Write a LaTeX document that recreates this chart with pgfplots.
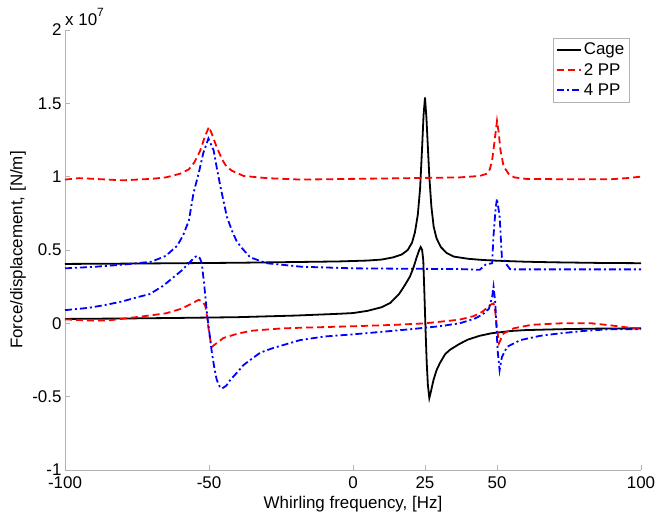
\documentclass[border=0pt]{standalone}
\usepackage{fontspec}
\setmainfont{Liberation Sans}
\usepackage{pgfplots}
\pgfplotsset{compat=1.18}

\begin{document}
\begin{tikzpicture}[font=\fontsize{17}{20}\selectfont]
  \begin{axis}[
    width=576bp, height=440bp, scale only axis,
    xmin=-100, xmax=100, ymin=-1, ymax=2,
    axis lines=left, axis line style={-, draw=gray!60, line width=0.9bp},
    tick style={draw=gray!60, line width=0.9bp},
    tick align=inside, major tick length=5bp,
    xtick={-100,-50,0,25,50,100},
    xticklabels={-100,-50,0,25,50,100},
    ytick={-1,-0.5,0,0.5,1,1.5,2},
    yticklabels={-1,-0.5,0,0.5,1,1.5,2},
    xticklabel style={yshift=-3bp},
    xlabel={Whirling frequency, [Hz]},
    ylabel={Force/displacement, [N/m]},
    xlabel style={at={(rel axis cs:0.5,0)}, anchor=center, yshift=-34bp},
    ylabel style={at={(rel axis cs:-0.0816,0.5)}, anchor=center},
    clip=false,
    legend cell align=left,
    legend style={at={(rel axis cs:0.98,0.982)}, anchor=north east,
      draw=gray!60, fill=white, inner sep=3bp, row sep=3bp,
      font=\fontsize{17}{20}\selectfont},
    legend image code/.code={\draw[#1] (0bp,0bp) -- (24bp,0bp);},
  ]
    % Cage
    \addplot[black, line width=1.8bp] coordinates {
      (-100,0.405)(-80,0.407)(-60,0.41)(-40,0.413)(-20,0.418)(-5,0.422)(5,0.428)
      (10,0.435)(14,0.45)(17,0.47)(19,0.5)(20.5,0.55)(21.5,0.62)(22.5,0.74)
      (23.3,0.92)(24,1.2)(24.5,1.42)(25,1.54)(25.5,1.4)(26,1.2)(26.5,1.0)
      (27.2,0.8)(28,0.66)(29,0.58)(30.5,0.52)(32.5,0.48)(35,0.455)(40,0.44)
      (45,0.432)(50,0.427)(60,0.42)(70,0.416)(85,0.412)(100,0.41)
    };
    \addlegendentry{Cage}
    \addplot[red, line width=1.8bp, dash pattern=on 7bp off 4bp] coordinates {
      (-100,0.98)(-95,0.99)(-90,0.985)(-80,0.975)(-70,0.985)(-65,0.995)(-60,1.02)
      (-57,1.05)(-55,1.1)(-53,1.18)(-51.5,1.27)(-50,1.34)(-48.8,1.28)(-47.3,1.2)
      (-45.5,1.12)(-44,1.07)(-42,1.04)(-38,1.005)(-30,0.99)(-18,0.98)(0,0.985)
      (20,0.99)(37,0.995)(44,1.005)(46.5,1.02)(47.5,1.05)(48.3,1.11)(49.2,1.25)
      (50,1.38)(50.6,1.3)(51.2,1.18)(52.3,1.07)(54,1.02)(56,0.995)(60,0.985)
      (70,0.983)(90,0.983)(95,0.99)(100,1.0)
    };
    \addlegendentry{2 PP}
    \addplot[blue, line width=1.8bp, dash pattern=on 7bp off 3bp on 2bp off 3bp] coordinates {
      (-100,0.375)(-90,0.385)(-80,0.4)(-70,0.42)(-65,0.46)(-61,0.53)(-59,0.6)
      (-57,0.7)(-55.4,0.886)(-53.5,1.03)(-52,1.16)(-50.2,1.26)(-48.4,1.18)
      (-47.2,1.05)(-46,0.93)(-43.8,0.727)(-42,0.63)(-40.3,0.556)(-38,0.5)
      (-35.7,0.45)(-30,0.41)(-18,0.386)(0,0.375)(20,0.372)(37,0.37)(44,0.365)
      (46,0.4)(48.3,0.41)(48.8,0.6)(49.5,0.78)(50,0.85)(50.9,0.73)(51.7,0.45)
      (53,0.41)(54.5,0.37)(56,0.368)(100,0.368)
    };
    \addlegendentry{4 PP}
    % lower branches
    \addplot[black, line width=1.8bp, forget plot] coordinates {
      (-100,0.03)(-80,0.033)(-60,0.037)(-40,0.042)(-20,0.053)(-5,0.065)(0,0.07)
      (5,0.085)(10,0.11)(13,0.14)(16,0.2)(18,0.26)(19.8,0.32)(21,0.38)(22.1,0.45)
      (23,0.5)(23.5,0.52)(24,0.5)(24.4,0.43)(24.8,0.2)(25.2,-0.05)(25.6,-0.27)
      (26,-0.42)(26.5,-0.51)(27,-0.47)(27.9,-0.39)(29,-0.32)(30.2,-0.27)(32,-0.21)
      (33.7,-0.18)(37,-0.14)(40,-0.11)(44,-0.085)(48,-0.068)(55,-0.052)(60,-0.046)
      (72,-0.04)(85,-0.036)(100,-0.034)
    };
    \addplot[red, line width=1.8bp, dash pattern=on 7bp off 4bp, forget plot] coordinates {
      (-100,0.027)(-92,0.02)(-85,0.02)(-74,0.045)(-65,0.068)(-59.5,0.1)(-56,0.135)
      (-53.6,0.16)(-52.3,0.15)(-51.3,0.12)(-50.7,0.05)(-50.2,-0.03)(-49.5,-0.12)
      (-49,-0.16)(-47,-0.13)(-45,-0.1)(-40,-0.07)(-35,-0.05)(-25,-0.035)(-18,-0.03)
      (0,-0.02)(15,-0.01)(25,0.0)(37,0.025)(42,0.05)(45,0.08)(47.6,0.125)
      (48.8,0.136)(49.4,0.08)(49.9,-0.02)(50.7,-0.136)(51.5,-0.1)(52.3,-0.068)
      (55.8,-0.034)(62,-0.01)(72,0.0)(83,0.0)(90,-0.015)(100,-0.04)
    };
    \addplot[blue, line width=1.8bp, dash pattern=on 7bp off 3bp on 2bp off 3bp, forget plot] coordinates {
      (-100,0.09)(-92,0.105)(-86,0.125)(-80,0.15)(-74.5,0.18)(-70.5,0.2)(-66,0.255)
      (-63.5,0.295)(-59.5,0.36)(-57,0.41)(-55,0.45)(-54.2,0.46)(-53.2,0.445)
      (-52.5,0.41)(-51.6,0.25)(-50.7,0.068)(-49,-0.2)(-48,-0.32)(-47.3,-0.386)
      (-46.3,-0.43)(-45.5,-0.445)(-44,-0.425)(-42.6,-0.386)(-40,-0.33)(-38,-0.284)
      (-35,-0.24)(-32.2,-0.2)(-28,-0.17)(-24.2,-0.148)(-18.3,-0.114)(-10,-0.09)
      (0,-0.075)(10.5,-0.057)(20,-0.04)(30,-0.02)(37,0.0)(42,0.03)(45,0.06)
      (47.2,0.1)(48.3,0.18)(48.8,0.25)(49.4,0.14)(50.2,-0.18)(50.9,-0.32)
      (51.7,-0.23)(53.5,-0.16)(58.2,-0.114)(65,-0.085)(72,-0.068)(80,-0.052)
      (89,-0.04)(100,-0.04)
    };
    \node[anchor=base west, inner sep=0pt] at (rel axis cs:0,1) [yshift=4bp]
      {x 10\raisebox{0.55em}{\fontsize{12}{12}\selectfont 7}};
  \end{axis}
  \pgfresetboundingbox
  \path ([xshift=-65bp,yshift=-46bp]current axis.south west)
    rectangle ([xshift=17bp,yshift=30bp]current axis.north east);
\end{tikzpicture}
\end{document}
